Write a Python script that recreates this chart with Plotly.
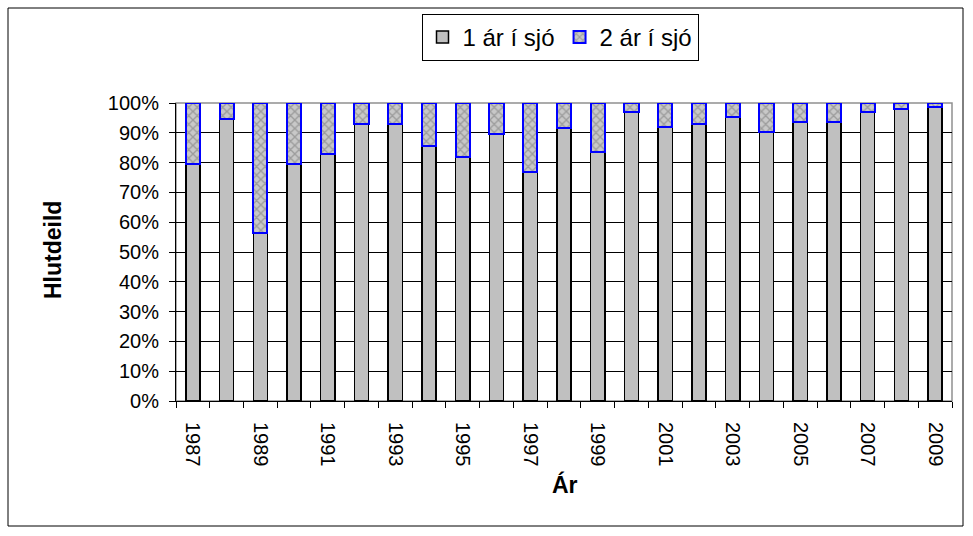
import plotly.graph_objects as go

years = list(range(1987, 2010))
one_sea = [79.6, 94.5, 56.3, 79.6, 83.0, 93.1, 93.1, 85.7, 81.8, 89.7, 76.9, 91.7,
           83.7, 97.1, 91.8, 93.1, 95.2, 90.4, 93.7, 93.7, 97.1, 98.0, 98.6]
two_sea = [round(100 - v, 1) for v in one_sea]
tick_years = list(range(1987, 2010, 2))
y_ticks = list(range(0, 101, 10))
y_labels = [f"{v}%" for v in y_ticks]

W, H = 973, 536
L, R, T, B = 176, 952, 103, 401

def px(x):
    return (x - L) / (R - L)

def py(y):
    return (B - y) / (B - T)

fig = go.Figure()
fig.add_bar(x=years, y=one_sea, name="1 ár í sjó", width=0.42,
            marker=dict(color="#C0C0C0", line=dict(color="black", width=1.5)))
fig.add_bar(x=years, y=two_sea, name="2 ár í sjó", width=0.42,
            marker=dict(color="#B8B8B8", line=dict(color="#0000FF", width=2),
                        pattern=dict(shape="x", fgcolor="#707070", bgcolor="#C8C8C8",
                                     size=6, solidity=0.4)))

fig.update_layout(
    width=W, height=H, barmode="stack",
    margin=dict(l=L, r=W - R, t=T, b=H - B, autoexpand=False),
    paper_bgcolor="white", plot_bgcolor="white",
    font=dict(family="Liberation Sans, Arial, sans-serif", size=20, color="black"),
    showlegend=True,
    legend=dict(orientation="h", x=px(560), y=py(14), xanchor="center", yanchor="top",
                bordercolor="black", borderwidth=1, bgcolor="white",
                font=dict(size=24), traceorder="normal", itemwidth=30,
                tracegroupgap=0),
    xaxis=dict(range=[1986.5, 2009.5], tickvals=tick_years,
               ticktext=[str(y) for y in tick_years], tickangle=90, ticks="",
               ticklabelstandoff=16,
               showgrid=False, showline=True, linecolor="black", linewidth=1,
               zeroline=False,
               minor=dict(tick0=1986.5, dtick=1, ticks="outside", ticklen=6,
                          tickcolor="black", showgrid=False)),
    yaxis=dict(range=[0, 100], tickmode="array", tickvals=y_ticks, ticktext=y_labels,
               ticks="outside", ticklen=6, tickcolor="black", ticklabelstandoff=6,
               showgrid=True, gridcolor="black", gridwidth=1, showline=True,
               linecolor="black", linewidth=1, zeroline=False),
    shapes=[
        dict(type="rect", xref="paper", yref="paper", x0=0, x1=1, y0=0, y1=1,
             line=dict(color="#909090", width=1.5), layer="between"),
        dict(type="rect", xref="paper", yref="paper", x0=px(8), x1=px(963),
             y0=py(526), y1=py(8), line=dict(color="black", width=1), layer="above"),
    ],
    annotations=[
        dict(text="<b>Hlutdeild</b>", xref="paper", yref="paper", x=px(53), y=py(250),
             xanchor="center", yanchor="middle",
             textangle=-90, showarrow=False, font=dict(size=23)),
        dict(text="<b>Ár</b>", xref="paper", yref="paper", x=px(565), y=py(484),
             xanchor="center", yanchor="middle",
             showarrow=False, font=dict(size=23)),
    ],
)
fig.write_html("out.html", config={"displayModeBar": False},
               post_script="document.body.style.margin='0';document.body.style.overflow='hidden';")
